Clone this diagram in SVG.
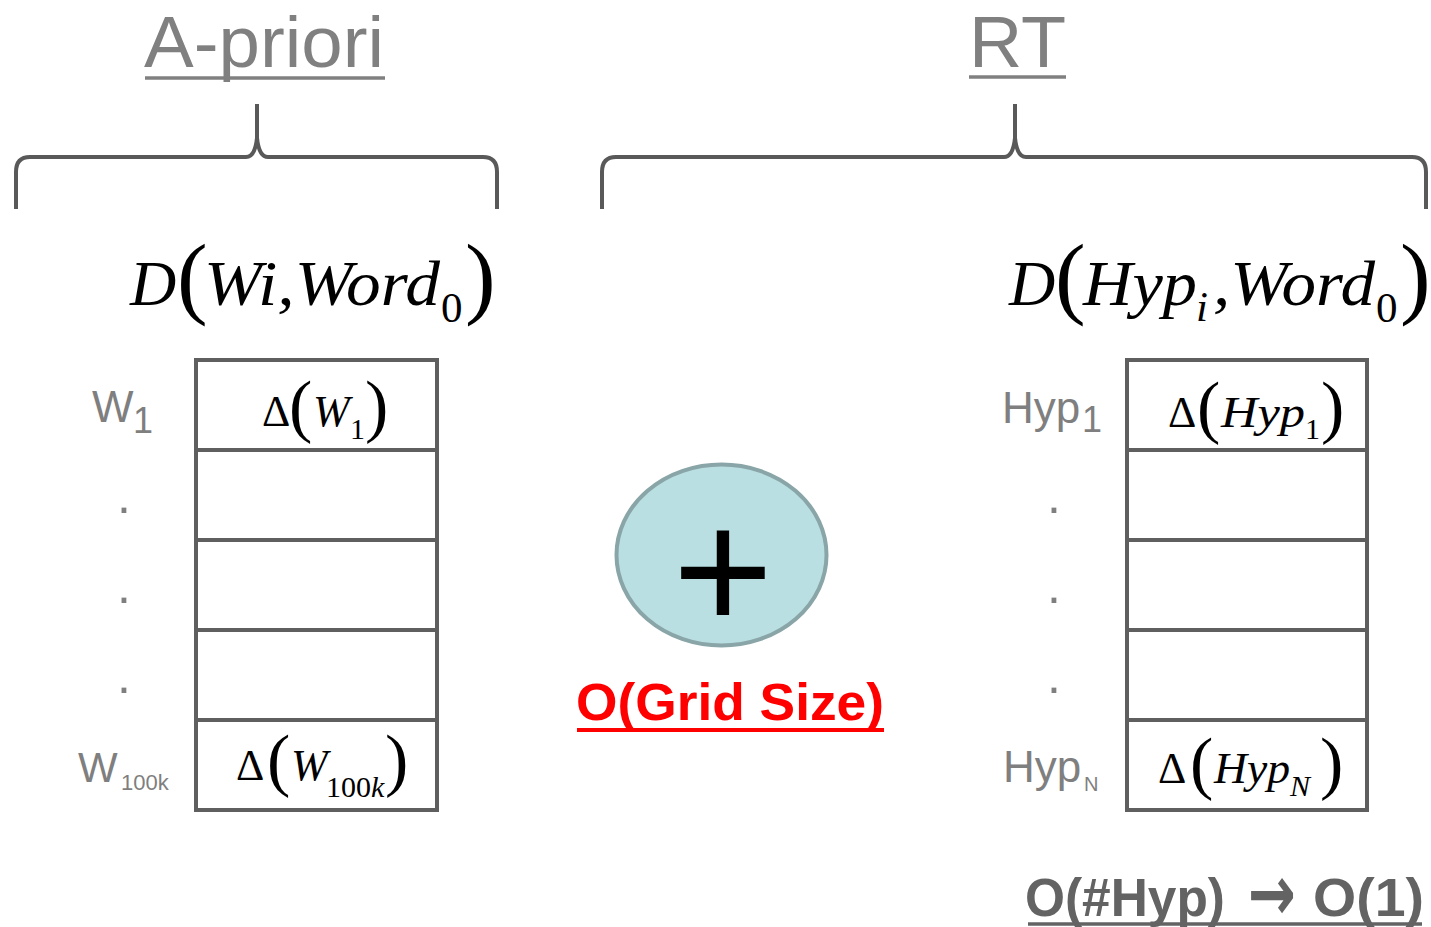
<svg xmlns="http://www.w3.org/2000/svg" width="1431" height="927" viewBox="0 0 1431 927">
<style>
  .hdr{font-family:"Liberation Sans",sans-serif;font-size:72px;fill:#808080}
  .ul{stroke:#808080;stroke-width:3.5}
  .brace{fill:none;stroke:#595959;stroke-width:4;stroke-linejoin:round}
  .mi{font-family:"Liberation Serif",serif;font-style:italic;fill:#000}
  .mu{font-family:"Liberation Serif",serif;fill:#000}
  .cell{fill:#fff;stroke:#5f5f5f;stroke-width:4}
  .lbl{font-family:"Liberation Sans",sans-serif;fill:#7f7f7f}
  .bold{font-family:"Liberation Sans",sans-serif;font-weight:bold}
</style>
<rect width="1431" height="927" fill="#fff"/>

<g id="header-apriori">
  <text class="hdr" x="144" y="67" textLength="240" lengthAdjust="spacingAndGlyphs">A-priori</text>
  <line class="ul" x1="145" y1="78" x2="385" y2="78"/>
</g>
<g id="header-rt">
  <text class="hdr" x="969" y="67" textLength="97" lengthAdjust="spacingAndGlyphs">RT</text>
  <line class="ul" x1="969" y1="77" x2="1066" y2="77"/>
</g>

<g id="connectors">
  <path class="brace" d="M16,209 V172 Q16,157 30,157 H246 Q255,157 257,138 V104 M257,138 Q259,157 268,157 H483 Q497,157 497,172 V209"/>
  <path class="brace" d="M602,209 V172 Q602,157 616,157 H1004 Q1013,157 1015,138 V104 M1015,138 Q1017,157 1026,157 H1412 Q1426,157 1426,172 V209"/>
</g>

<g id="formula-left">
  <text class="mi" x="130" y="305" font-size="64">D</text>
  <text class="mu" x="177" y="307" font-size="92">(</text>
  <text class="mi" x="204" y="305" font-size="64" textLength="236" lengthAdjust="spacingAndGlyphs">Wi,Word</text>
  <text class="mu" x="441" y="322" font-size="43">0</text>
  <text class="mu" x="465" y="307" font-size="92">)</text>
</g>
<g id="formula-right">
  <text class="mi" x="1009" y="305" font-size="64">D</text>
  <text class="mu" x="1055" y="307" font-size="92">(</text>
  <text class="mi" x="1083" y="305" font-size="64" textLength="114" lengthAdjust="spacingAndGlyphs">Hyp</text>
  <text class="mi" x="1196" y="321" font-size="43">i</text>
  <text class="mi" x="1213" y="305" font-size="64" textLength="162" lengthAdjust="spacingAndGlyphs">,Word</text>
  <text class="mu" x="1376" y="322" font-size="43">0</text>
  <text class="mu" x="1400" y="307" font-size="92">)</text>
</g>

<g id="table-left">
  <rect class="cell" x="196" y="360" width="241" height="90"/>
  <rect class="cell" x="196" y="450" width="241" height="90"/>
  <rect class="cell" x="196" y="540" width="241" height="90"/>
  <rect class="cell" x="196" y="630" width="241" height="90"/>
  <rect class="cell" x="196" y="720" width="241" height="90"/>
  <text class="mu" x="262" y="426" font-size="44">Δ</text>
  <text class="mu" x="289" y="429" font-size="70">(</text>
  <text class="mi" x="313" y="426" font-size="44">W</text>
  <text class="mu" x="350" y="439" font-size="30">1</text>
  <text class="mu" x="365" y="429" font-size="70">)</text>
  <text class="mu" x="236" y="780" font-size="44">Δ</text>
  <text class="mu" x="267" y="783" font-size="70">(</text>
  <text class="mi" x="291" y="780" font-size="44">W</text>
  <text class="mu" x="326" y="797" font-size="30">100</text>
  <text class="mi" x="371" y="797" font-size="30">k</text>
  <text class="mu" x="385" y="783" font-size="70">)</text>
</g>
<g id="labels-left">
  <text class="lbl" x="92" y="422" font-size="44">W</text>
  <text class="lbl" x="133" y="433" font-size="36">1</text>
  <text class="lbl" x="117" y="513" font-size="50">.</text>
  <text class="lbl" x="117" y="603" font-size="50">.</text>
  <text class="lbl" x="117" y="693" font-size="50">.</text>
  <text class="lbl" x="78" y="782" font-size="42">W</text>
  <text class="lbl" x="121" y="790" font-size="22">100k</text>
</g>

<g id="table-right">
  <rect class="cell" x="1127" y="360" width="240" height="90"/>
  <rect class="cell" x="1127" y="450" width="240" height="90"/>
  <rect class="cell" x="1127" y="540" width="240" height="90"/>
  <rect class="cell" x="1127" y="630" width="240" height="90"/>
  <rect class="cell" x="1127" y="720" width="240" height="90"/>
  <text class="mu" x="1168" y="427" font-size="44">Δ</text>
  <text class="mu" x="1197" y="430" font-size="70">(</text>
  <text class="mi" x="1221" y="427" font-size="44" textLength="84" lengthAdjust="spacingAndGlyphs">Hyp</text>
  <text class="mu" x="1305" y="439" font-size="30">1</text>
  <text class="mu" x="1321" y="430" font-size="70">)</text>
  <text class="mu" x="1158" y="783" font-size="44">Δ</text>
  <text class="mu" x="1190" y="786" font-size="70">(</text>
  <text class="mi" x="1214" y="783" font-size="44" textLength="76" lengthAdjust="spacingAndGlyphs">Hyp</text>
  <text class="mi" x="1290" y="796" font-size="30">N</text>
  <text class="mu" x="1320" y="786" font-size="70">)</text>
</g>
<g id="labels-right">
  <text class="lbl" x="1002" y="423" font-size="44">Hyp</text>
  <text class="lbl" x="1082" y="432" font-size="36">1</text>
  <text class="lbl" x="1047" y="513" font-size="50">.</text>
  <text class="lbl" x="1047" y="603" font-size="50">.</text>
  <text class="lbl" x="1047" y="693" font-size="50">.</text>
  <text class="lbl" x="1003" y="782" font-size="44">Hyp</text>
  <text class="lbl" x="1084" y="791" font-size="20">N</text>
</g>

<g id="plus-node">
  <ellipse cx="721.5" cy="555" rx="105" ry="90.5" fill="#b9dfe2" stroke="#89a5a7" stroke-width="4"/>
  <text x="723" y="630" font-family="Liberation Sans,sans-serif" font-size="172" text-anchor="middle" fill="#000">+</text>
</g>

<g id="cost-grid">
  <text class="bold" x="576" y="720" font-size="52" fill="#ff0000" textLength="308" lengthAdjust="spacingAndGlyphs">O(Grid Size)</text>
  <line x1="577" y1="730" x2="884" y2="730" stroke="#ff0000" stroke-width="4"/>
</g>
<g id="cost-hyp">
  <text class="bold" x="1025" y="916" font-size="54" fill="#636363" textLength="200" lengthAdjust="spacingAndGlyphs">O(#Hyp)</text>
  <text x="1248" y="920" font-family="DejaVu Sans,sans-serif" font-weight="bold" font-size="78" fill="#636363" textLength="48" lengthAdjust="spacingAndGlyphs">→</text>
  <text class="bold" x="1313" y="916" font-size="54" fill="#636363" textLength="111" lengthAdjust="spacingAndGlyphs">O(1)</text>
  <line x1="1028" y1="924" x2="1422" y2="924" stroke="#636363" stroke-width="3.5"/>
</g>
</svg>
